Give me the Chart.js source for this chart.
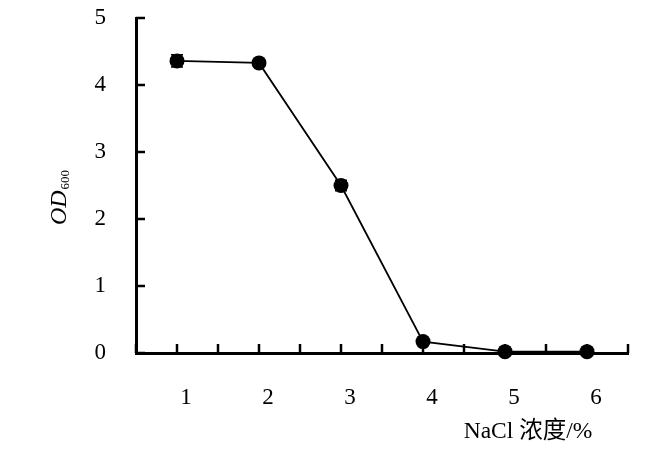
<!DOCTYPE html>
<html>
<head>
<meta charset="utf-8">
<script src="https://cdn.jsdelivr.net/npm/chart.js@4.4.1/dist/chart.umd.min.js"></script>
<style>
  html, body { margin: 0; padding: 0; background: #fff; }
  #wrap { width: 664px; height: 462px; }
</style>
</head>
<body>
<div id="wrap"><canvas id="od-chart" width="664" height="462"></canvas></div>
<script>
// NaCl concentration (%) on x, OD600 on y
const categories = [1, 2, 3, 4, 5, 6];
const odValues = [4.36, 4.33, 2.5, 0.17, 0.02, 0.02];
const odErrors = [0.09, 0.03, 0.08, 0.03, 0, 0];
const yTicks = [0, 1, 2, 3, 4, 5];

const SERIF = "'Liberation Serif', 'Times New Roman', serif";
const points = categories.map((c, i) => ({ x: c, y: odValues[i] }));

// error bars behind the dots
const errorBars = {
    id: 'errorBars',
    beforeDatasetsDraw(chart) {
        const { ctx, scales: { x, y } } = chart;
        ctx.save();
        ctx.strokeStyle = '#000'; ctx.lineWidth = 1.5;
        points.forEach((p, i) => {
            if (!odErrors[i]) return;
            const px = x.getPixelForValue(p.x);
            const top = y.getPixelForValue(p.y + odErrors[i]);
            const bot = y.getPixelForValue(p.y - odErrors[i]);
            ctx.beginPath();
            ctx.moveTo(px, top); ctx.lineTo(px, bot);
            ctx.moveTo(px - 6, top); ctx.lineTo(px + 6, top);
            ctx.moveTo(px - 6, bot); ctx.lineTo(px + 6, bot);
            ctx.stroke();
        });
        ctx.restore();
    }
};

// inward tick marks + axis titles
const axisDecor = {
    id: 'axisDecor',
    afterDraw(chart) {
        const { ctx, chartArea: a, scales: { x, y } } = chart;
        ctx.save();
        ctx.strokeStyle = '#000'; ctx.lineWidth = 2.5;
        ctx.beginPath();
        x.ticks.forEach(t => {
            const px = Math.round(x.getPixelForValue(t.value));
            ctx.moveTo(px, a.bottom); ctx.lineTo(px, a.bottom - 9);
        });
        yTicks.forEach(v => {
            const py = Math.round(y.getPixelForValue(v));
            ctx.moveTo(a.left, py); ctx.lineTo(a.left + 9, py);
        });
        ctx.stroke();

        // x title
        ctx.fillStyle = '#000';
        ctx.font = "23.5px 'Liberation Serif', 'Noto Sans CJK SC', serif";
        ctx.textAlign = 'center'; ctx.textBaseline = 'middle';
        ctx.fillText('NaCl 浓度/%', 528, 432);

        // y title: OD with subscript 600, rotated
        ctx.translate(60, 198);
        ctx.rotate(-Math.PI / 2);
        ctx.textAlign = 'left'; ctx.textBaseline = 'middle';
        ctx.font = 'italic 24px ' + SERIF;
        const w1 = ctx.measureText('OD').width;
        ctx.font = '13px ' + SERIF;
        const w2 = ctx.measureText('600').width;
        const start = -(w1 + w2) / 2;
        ctx.font = 'italic 24px ' + SERIF;
        ctx.fillText('OD', start, 0);
        ctx.font = '13px ' + SERIF;
        ctx.fillText('600', start + w1 + 1, 6);
        ctx.restore();
    }
};

new Chart(document.getElementById('od-chart').getContext('2d'), {
    type: 'line',
    data: { datasets: [{ data: points, borderColor: '#000', borderWidth: 1.8, pointRadius: 7.5, pointBackgroundColor: '#000', pointBorderColor: '#000', pointBorderWidth: 0, tension: 0, clip: false }] },
    options: {
        responsive: false, animation: false, devicePixelRatio: 1,
        layout: { padding: { left: 0, right: 36, top: 18, bottom: 0 } },
        plugins: { legend: { display: false }, tooltip: { enabled: false } },
        scales: {
            x: {
                type: 'linear', min: 0.5, max: 6.5,
                afterFit: s => { s.height = 109; s.paddingLeft = 0; s.paddingRight = 0; },
                ticks: { stepSize: 0.5, autoSkip: false, maxRotation: 0, padding: 31, labelOffset: 9, color: '#000', font: { family: SERIF, size: 23 }, callback: v => Number.isInteger(v) ? String(v) : '' },
                grid: { display: false, drawTicks: false },
                border: { display: true, color: '#000', width: 3 }
            },
            y: {
                min: 0, max: 5,
                afterFit: s => { s.width = 136; s.paddingTop = 0; s.paddingBottom = 0; },
                ticks: { stepSize: 1, padding: 30, color: '#000', font: { family: SERIF, size: 23 } },
                grid: { display: false, drawTicks: false },
                border: { display: true, color: '#000', width: 3 }
            }
        }
    },
    plugins: [errorBars, axisDecor]
});
</script>
</body>
</html>
